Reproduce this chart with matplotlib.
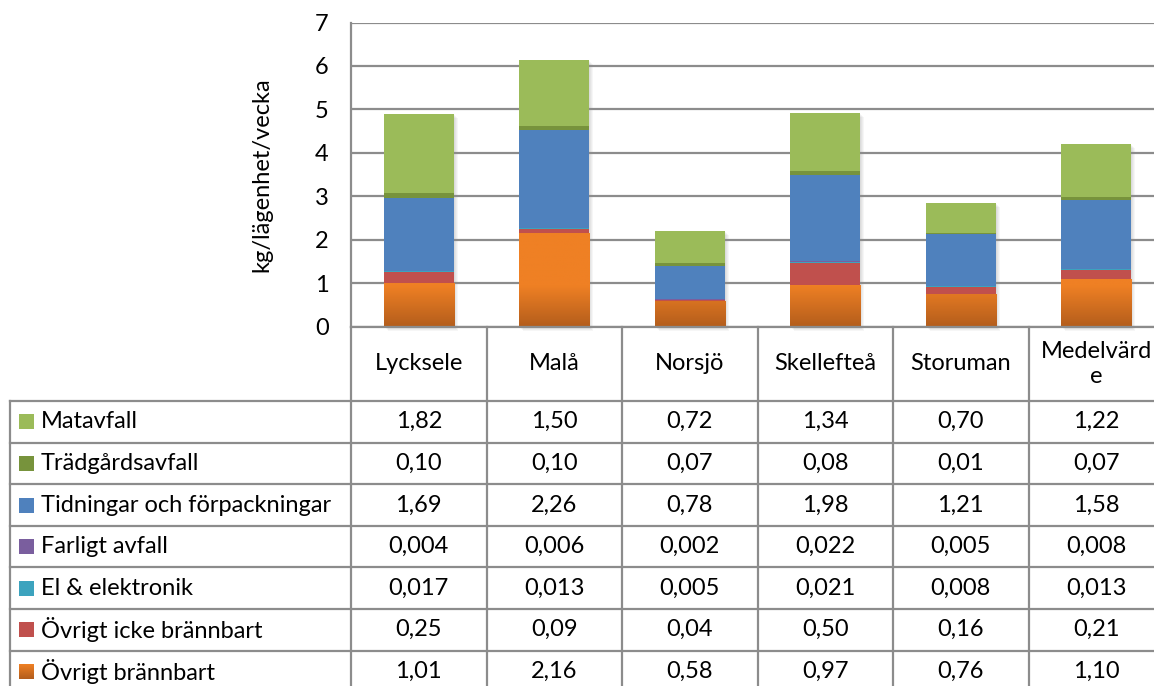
import numpy as np
import matplotlib
matplotlib.use("Agg")
import matplotlib.pyplot as plt
from matplotlib.patches import Rectangle
from matplotlib import transforms

plt.rcParams['font.family'] = ['Lato', 'DejaVu Sans']

# --- data -------------------------------------------------------------
categories = ["Lycksele", "Malå", "Norsjö", "Skellefteå", "Storuman", "Medelvärd\ne"]

# table rows, top to bottom (stacking order is the reverse)
series_names = ["Matavfall", "Trädgårdsavfall", "Tidningar och förpackningar",
                "Farligt avfall", "El & elektronik", "Övrigt icke brännbart",
                "Övrigt brännbart"]
matavfall = [1.82, 1.50, 0.72, 1.34, 0.70, 1.22]
tradgard = [0.10, 0.10, 0.07, 0.08, 0.01, 0.07]
tidningar = [1.69, 2.26, 0.78, 1.98, 1.21, 1.58]
farligt = [0.004, 0.006, 0.002, 0.022, 0.005, 0.008]
el_elektronik = [0.017, 0.013, 0.005, 0.021, 0.008, 0.013]
ovrigt_icke = [0.25, 0.09, 0.04, 0.50, 0.16, 0.21]
ovrigt_brannbart = [1.01, 2.16, 0.58, 0.97, 0.76, 1.10]
series_values = [matavfall, tradgard, tidningar, farligt, el_elektronik,
                 ovrigt_icke, ovrigt_brannbart]
decimals = [2, 2, 2, 3, 3, 2, 2]

yticks = [0, 1, 2, 3, 4, 5, 6, 7]
ylabel = "kg/lägenhet/vecka"

# --- styling ----------------------------------------------------------
colors = ["#9BBB59", "#77933C", "#4F81BD", "#7A5E9E", "#3CA3BE", "#C0504D", "#EE7F24"]
orange_top = np.array([0xEF, 0x80, 0x24]) / 255
orange_bot = np.array([0xB3, 0x5D, 0x1C]) / 255
grid_c = "#8C8C8C"
fs = 17

W, H = 1154, 686
fig = plt.figure(figsize=(W / 100, H / 100), dpi=100)


def rect(x0, y0, x1, y1):
    return [x0 / W, 1 - y1 / H, (x1 - x0) / W, (y1 - y0) / H]


col_left, col_w = 351, 135.5
n = len(categories)
col_right = col_left + n * col_w
plot_top, plot_bot = 22.5, 326.7

ax = fig.add_axes(rect(col_left, plot_top, col_right, plot_bot))
x = np.arange(n)
bw = 0.52


def orange_grad(v):
    t = np.clip(v / 0.95, 0, 1)[:, None]
    return orange_bot + (orange_top - orange_bot) * t


# soft shadow behind each bar
totals = np.sum(series_values, axis=0)
for off in range(1, 5):
    tr = transforms.offset_copy(ax.transData, fig, x=off, y=-off, units='dots')
    for xi, tot in zip(x, totals):
        ax.add_patch(Rectangle((xi - bw / 2, 0), bw, tot, transform=tr,
                               color="black", alpha=0.035, lw=0, zorder=1,
                               clip_on=False))

bottom = np.zeros(n)
for name, vals, c in list(zip(series_names, series_values, colors))[::-1]:
    vals = np.array(vals)
    bars = ax.bar(x, vals, bottom=bottom, width=bw, color=c, lw=0, zorder=2)
    if name == "Övrigt brännbart":
        for b, xi, v in zip(bars, x, vals):
            ys = np.linspace(0, v, 200)
            img = orange_grad(ys)[:, None, :]
            im = ax.imshow(img, extent=[xi - bw / 2, xi + bw / 2, 0, v],
                           origin="lower", aspect="auto", zorder=2.5)
            im.set_clip_path(b)
    bottom += vals

ax.set_xlim(-0.5, n - 0.5)
ax.set_ylim(0, 7)
ax.set_yticks(yticks)
ax.set_yticklabels([str(t) for t in yticks], fontsize=fs)
ax.set_xticks([])
ax.tick_params(axis="y", length=0, pad=16)
ax.grid(axis="y", color=grid_c, lw=1.6, zorder=0)
for s in ["top", "right", "bottom"]:
    ax.spines[s].set_visible(False)
ax.spines["left"].set_color(grid_c)
ax.spines["left"].set_linewidth(1.6)
ax.set_facecolor("none")

fig.text(262 / W, 1 - (plot_top + plot_bot) / 2 / H, ylabel, rotation=90,
         fontsize=fs, ha="center", va="center")

# --- data table -------------------------------------------------------
tab = fig.add_axes([0, 0, 1, 1])
tab.set_xlim(0, W)
tab.set_ylim(H, 0)
tab.axis("off")

row_top, row_h = 401, 41.6
tab_left = 10
n_rows = len(series_names)
tab_bot = row_top + n_rows * row_h

line_kw = dict(color=grid_c, lw=1.6)
tab.plot([col_left, col_right], [plot_bot, plot_bot], **line_kw)
for k in range(n_rows + 1):
    y = row_top + k * row_h
    tab.plot([tab_left, col_right], [y, y], **line_kw)
tab.plot([tab_left, tab_left], [row_top, tab_bot], **line_kw)
for j in range(n + 1):
    xc = col_left + j * col_w
    tab.plot([xc, xc], [plot_bot, tab_bot], **line_kw)

for j, cat in enumerate(categories):
    tab.text(col_left + (j + 0.5) * col_w, (plot_bot + row_top) / 2, cat,
             fontsize=fs, ha="center", va="center", linespacing=1.2)

for i, (name, vals, c, d) in enumerate(zip(series_names, series_values, colors, decimals)):
    yc = row_top + (i + 0.5) * row_h
    if name == "Övrigt brännbart":
        g = orange_grad(np.linspace(0.95, 0, 50))[:, None, :]
        tab.imshow(g, extent=[19, 34, yc + 7.5, yc - 7.5], aspect="auto", zorder=3)
        tab.set_xlim(0, W)
        tab.set_ylim(H, 0)
    else:
        tab.add_patch(Rectangle((19, yc - 7.5), 15, 15, color=c, lw=0))
    tab.text(41, yc, name, fontsize=fs, ha="left", va="center")
    for j, v in enumerate(vals):
        s = f"{v:.{d}f}".replace(".", ",")
        tab.text(col_left + (j + 0.5) * col_w, yc, s, fontsize=fs,
                 ha="center", va="center")

fig.savefig("out.png", dpi=100)
